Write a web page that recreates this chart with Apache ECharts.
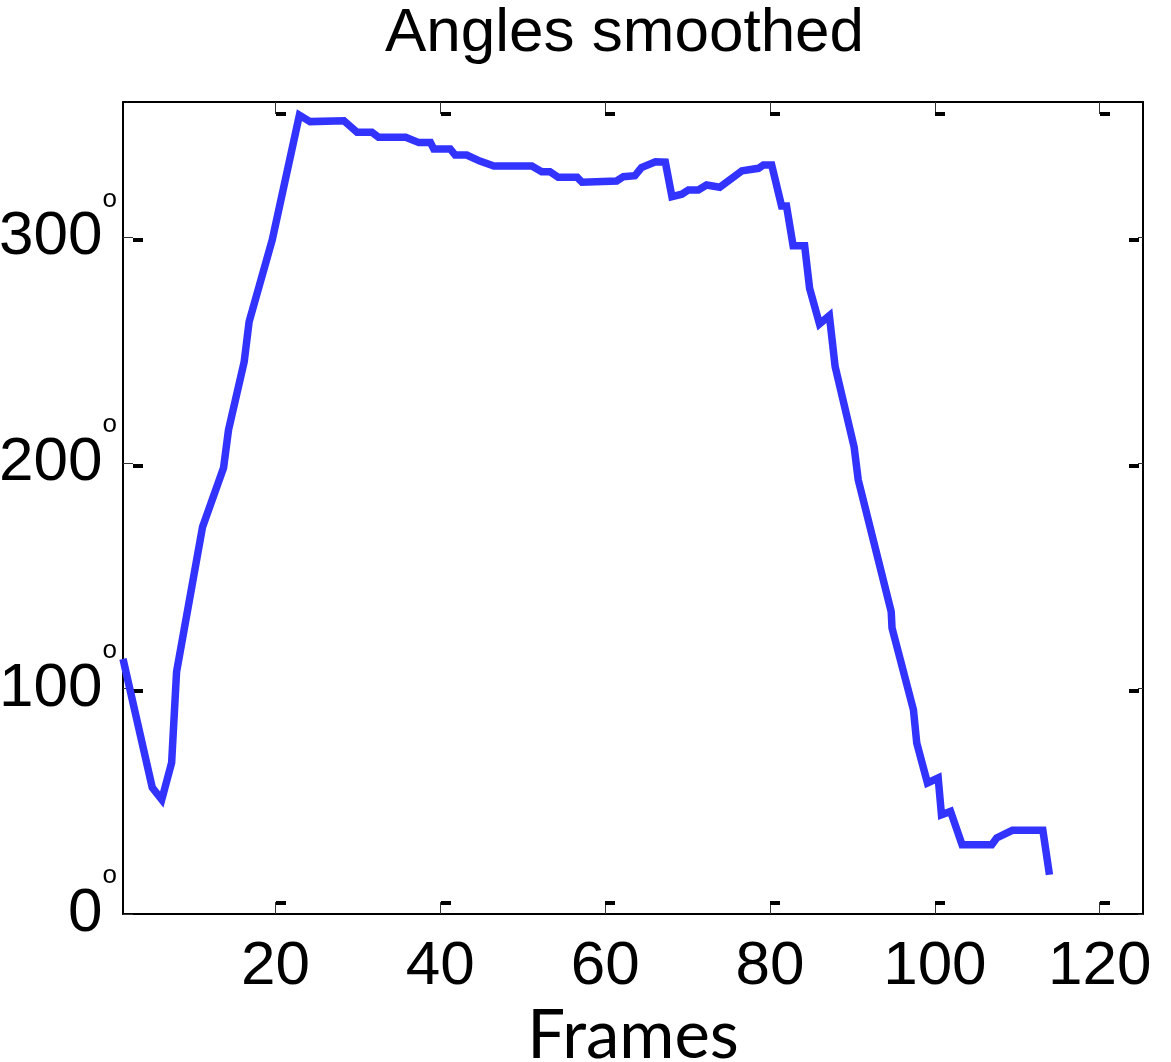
<!DOCTYPE html>
<html>
<head>
<meta charset="utf-8">
<title>Angles smoothed</title>
<script src="https://cdn.jsdelivr.net/npm/echarts@6/dist/echarts.min.js"></script>
<style>
    html, body { margin: 0; padding: 0; background: #fff; }
    #chart { width: 1171px; height: 1062px; }
</style>
</head>
<body>
<div id="chart"></div>
<script>
// 帧号（横轴）
const frames = [
    1.5, 5.05, 6.2, 7.4, 8.0, 11.15, 13.7, 14.3, 16.2, 16.8, 19.6, 22.9,
    24.2, 28.3, 29.9, 31.7, 32.5, 35.8, 37.4, 38.8, 39.2, 41.2, 41.8, 43.2,
    44.8, 46.5, 51.1, 52.3, 53.3, 54.3, 56.6, 57.2, 61.4, 62.2, 63.6, 64.4,
    66.1, 67.3, 68.1, 69.3, 70.1, 71.3, 72.3, 73.9, 76.6, 78.6, 79.2, 80.2,
    81.4, 82.0, 82.8, 84.2, 84.8, 86.0, 87.2, 87.9, 90.2, 90.7, 94.7, 94.8,
    97.4, 97.8, 99.1, 100.4, 100.8, 101.9, 103.3, 106.9, 107.5, 109.4, 113.1, 113.9
];

// 平滑后的角度（度）
const angles = [
    113.1, 56.0, 50.7, 67.1, 107.4, 171.6, 197.8, 214.6, 244.8, 262.6, 298.8, 354.2,
    351.3, 351.7, 346.6, 346.6, 344.4, 344.4, 342.0, 342.0, 339.2, 339.2, 336.5, 336.5,
    333.8, 331.6, 331.6, 329.1, 329.1, 326.6, 326.6, 324.4, 325.0, 326.9, 327.3, 330.9,
    333.5, 333.3, 318.0, 319.1, 321.0, 321.0, 323.2, 322.2, 329.5, 330.6, 332.1, 332.1,
    313.9, 313.9, 296.3, 296.3, 277.4, 261.6, 265.3, 242.7, 207.1, 192.5, 134.1, 126.8,
    90.5, 75.8, 58.1, 60.3, 44.0, 45.5, 30.7, 30.7, 33.7, 37.1, 37.1, 17.4
];

// 刻度
const xTicks = [20, 40, 60, 80, 100, 120];
const yTicks = [0, 100, 200, 300];

const X_MIN = 1.5, X_MAX = 125.25;
const Y_MIN = 0, Y_MAX = 360;

const chart = echarts.init(document.getElementById('chart'));

const lineData = frames.map((f, i) => [f, angles[i]]);

// 刻度旁的小黑块（原图中每个刻度都带一个偏移的短粗横线）
const xDash = xTicks.map(v => v + 0.6);
const yDash = yTicks.filter(v => v > 0).map(v => v - 1.2);

const gridRect = {
    left: 123,
    right: 28,
    top: 102,
    bottom: 148,
    containLabel: false,
    outerBoundsMode: 'none'
};

function frameAxis(pos, ticks, len, min, max, extra) {
    return Object.assign({
        type: 'value',
        gridIndex: 0,
        position: pos,
        min: min,
        max: max,
        axisLine: { show: true, onZero: false, lineStyle: { color: '#000', width: 2 } },
        axisTick: {
            show: true,
            inside: true,
            length: len,
            customValues: ticks,
            lineStyle: { color: '#333', width: 1 }
        },
        axisLabel: { show: false },
        splitLine: { show: false }
    }, extra);
}

function dashAxis(pos, ticks, len, width, offset, min, max) {
    return {
        type: 'value',
        gridIndex: 1,
        position: pos,
        offset: offset,
        min: min,
        max: max,
        axisLine: { show: false, onZero: false },
        axisLabel: { show: false },
        splitLine: { show: false },
        axisTick: {
            show: true,
            inside: true,
            length: len,
            customValues: ticks,
            lineStyle: { color: '#000', width: width }
        }
    };
}

const option = {
    animation: false,
    backgroundColor: '#fff',
    title: {
        text: 'Angles smoothed',
        left: 385,
        top: 3,
        padding: 0,
        textStyle: {
            fontFamily: 'Liberation Sans',
            fontSize: 62,
            fontWeight: 'normal',
            color: '#000'
        }
    },
    grid: [
        Object.assign({}, gridRect),
        Object.assign({}, gridRect)
    ],
    xAxis: [
        frameAxis('bottom', xTicks, 12, X_MIN, X_MAX, {
            name: 'Frames',
            nameLocation: 'middle',
            nameGap: 72,
            nameTextStyle: {
                fontFamily: 'Lato',
                fontSize: 67,
                color: '#000'
            },
            axisLabel: {
                show: true,
                customValues: xTicks,
                margin: 22,
                fontFamily: 'Liberation Sans',
                fontSize: 62,
                color: '#000'
            }
        }),
        frameAxis('top', xTicks, 12, X_MIN, X_MAX),
        dashAxis('bottom', xDash, 4, 10, -9, X_MIN, X_MAX),
        dashAxis('top', xDash, 4, 10, -10, X_MIN, X_MAX)
    ],
    yAxis: [
        frameAxis('left', yTicks, 10, Y_MIN, Y_MAX, {
            axisLabel: {
                show: true,
                customValues: yTicks,
                margin: 6,
                formatter: function (v) {
                    return '{n|' + v + '}{d|o}';
                },
                rich: {
                    n: {
                        fontFamily: 'Liberation Sans',
                        fontSize: 62,
                        lineHeight: 102,
                        color: '#000'
                    },
                    d: {
                        fontFamily: 'Liberation Sans',
                        fontSize: 26,
                        lineHeight: 20,
                        verticalAlign: 'top',
                        color: '#000'
                    }
                }
            }
        }),
        frameAxis('right', yTicks, 5, Y_MIN, Y_MAX),
        dashAxis('left', yDash, 10, 4, -10, Y_MIN, Y_MAX),
        dashAxis('right', yDash, 10, 4, -4, Y_MIN, Y_MAX)
    ],
    series: [
        {
            name: 'Angles smoothed',
            type: 'line',
            xAxisIndex: 0,
            yAxisIndex: 0,
            data: lineData,
            showSymbol: false,
            symbol: 'none',
            clip: true,
            lineStyle: {
                color: '#3333ff',
                width: 7.5,
                join: 'miter'
            }
        }
    ]
};

chart.setOption(option);
</script>
</body>
</html>
